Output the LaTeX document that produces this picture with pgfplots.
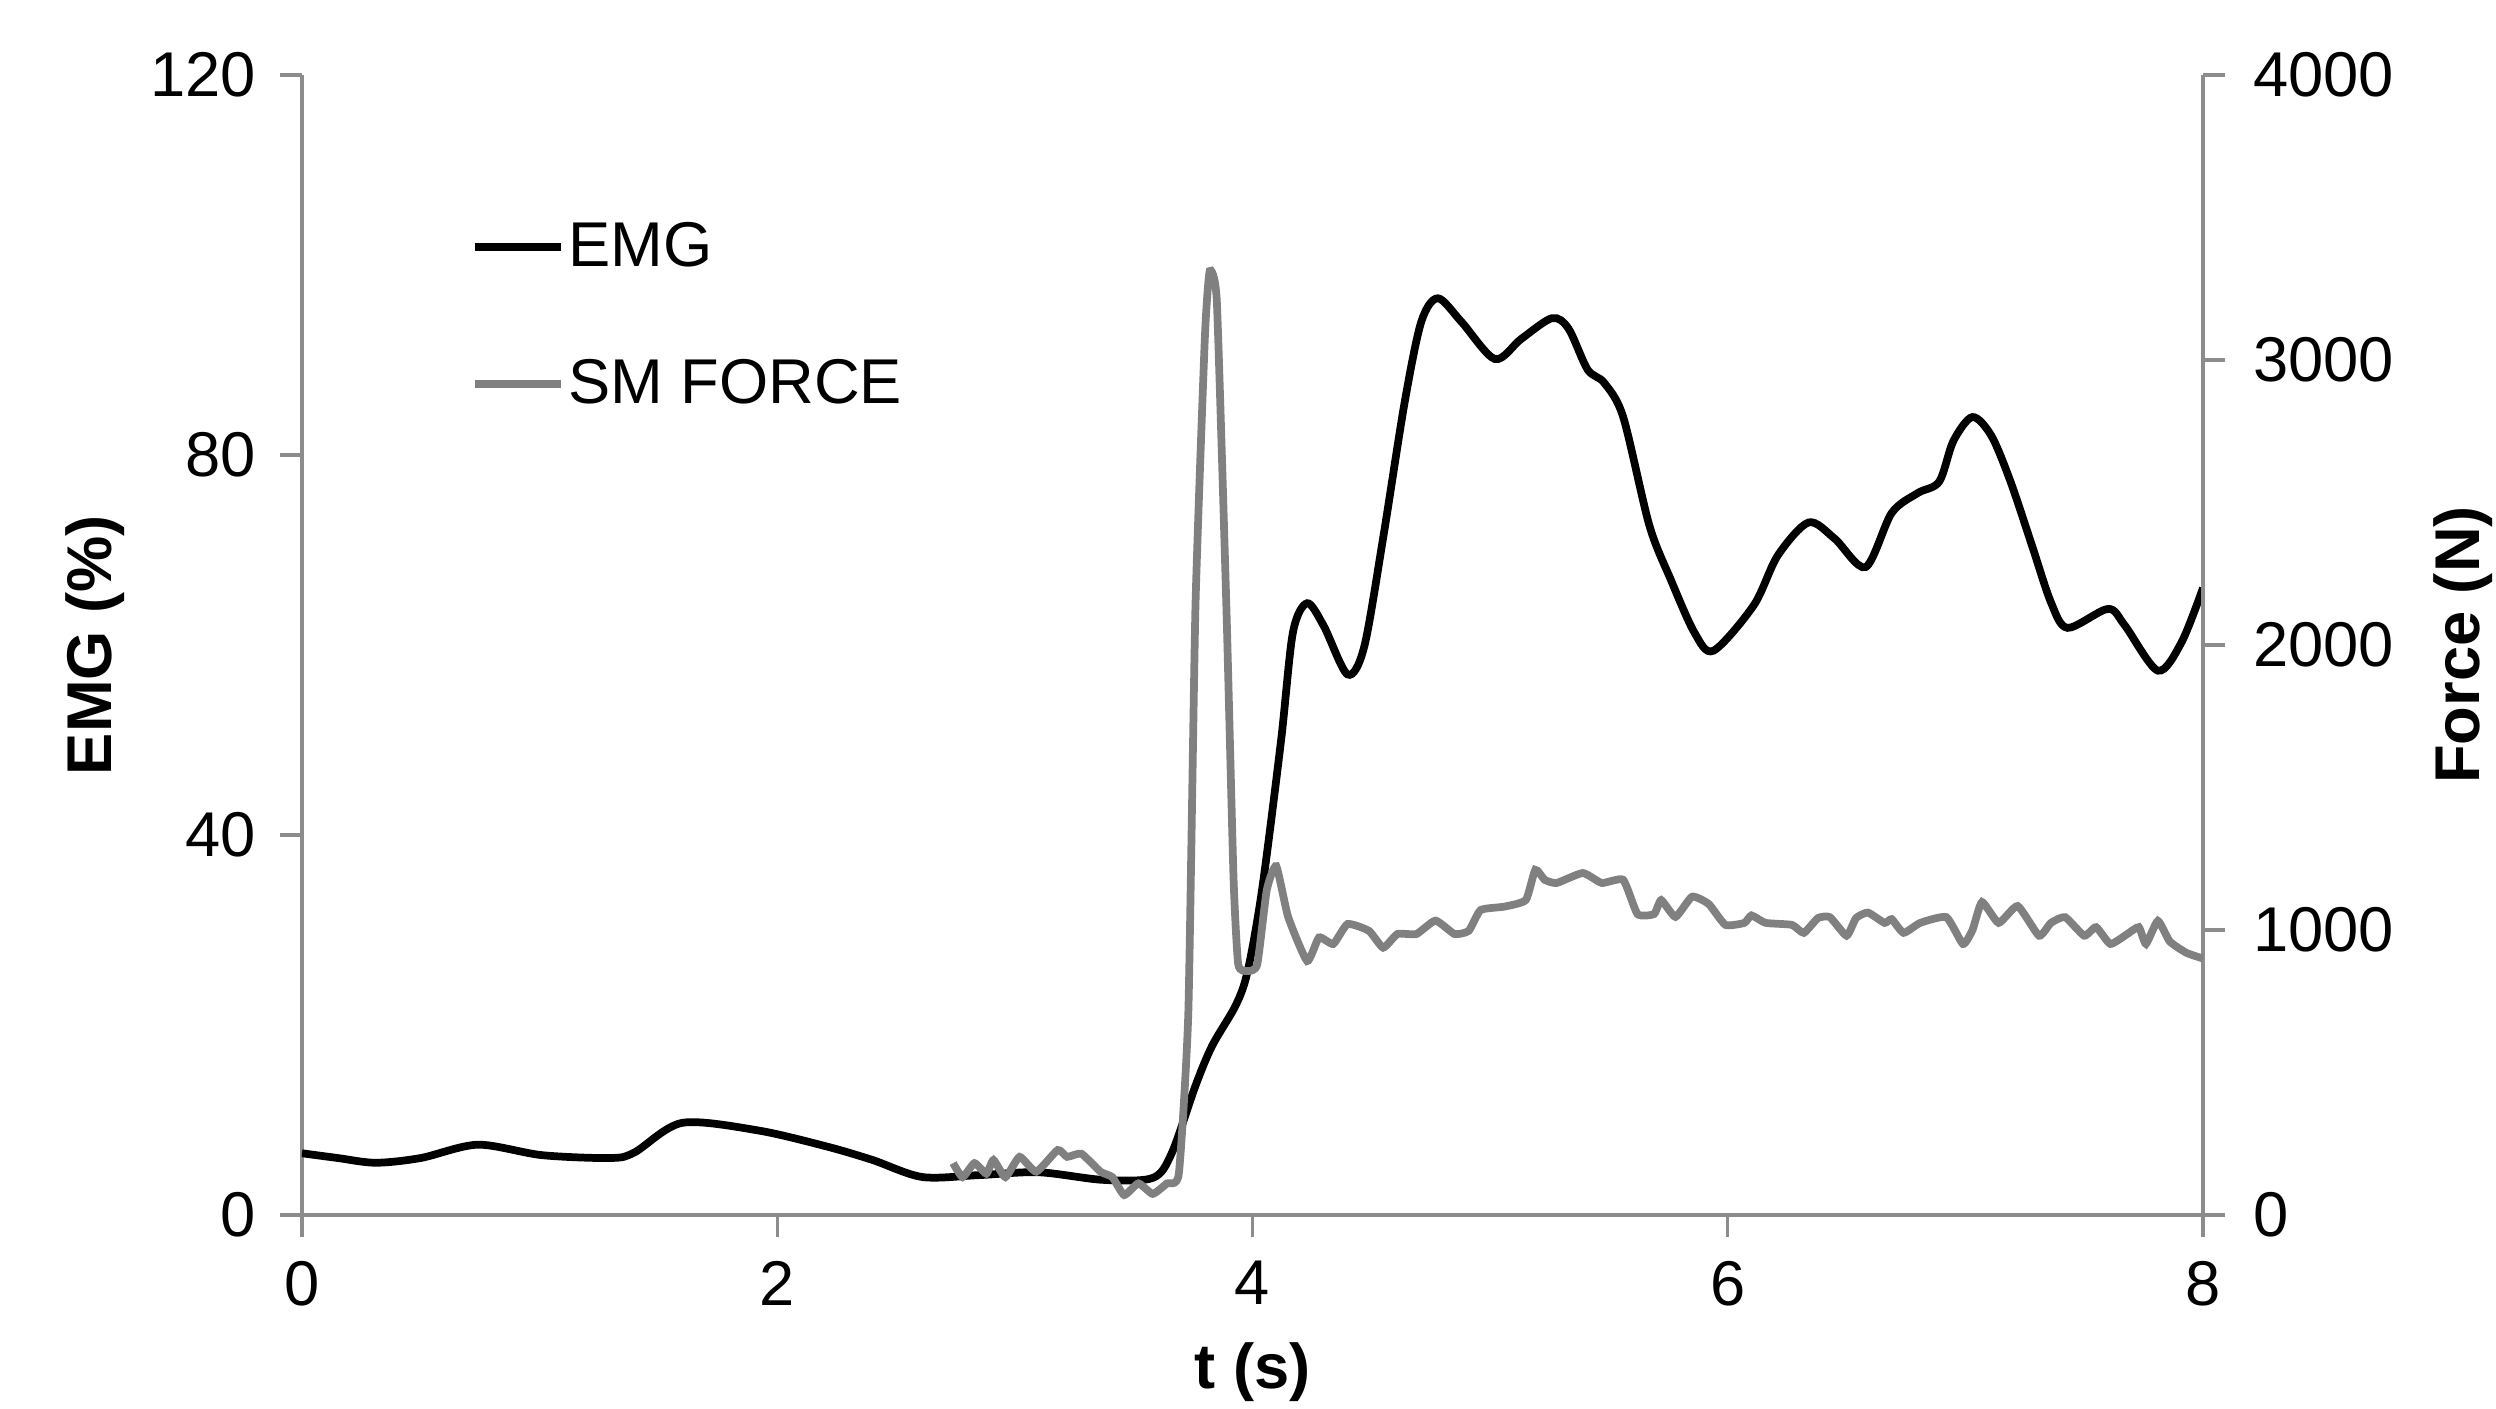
\documentclass[border=0pt]{standalone}
\usepackage{pgfplots}
\pgfplotsset{compat=1.18}
\usepackage{fontspec}
\setmainfont{Liberation Sans}
\definecolor{axgray}{RGB}{140,140,140}
\definecolor{forcegray}{RGB}{128,128,128}
\newcommand\tfont{\fontsize{18}{21}\selectfont}
\pgfplotstableread{
t emg
0.00 6.5
0.15 6.0
0.31 5.5
0.50 6.0
0.74 7.4
1.01 6.3
1.30 6.0
1.40 6.6
1.60 9.7
1.92 8.9
2.21 7.2
2.40 5.8
2.61 4.0
2.85 4.2
3.10 4.5
3.37 3.7
3.58 3.9
3.66 6.5
3.76 13.6
3.83 17.8
3.93 22.1
3.98 25.7
4.04 34.2
4.12 49.9
4.17 61.3
4.23 64.4
4.30 62.0
4.40 56.9
4.47 59.8
4.55 71.3
4.64 85.5
4.71 94.0
4.78 96.5
4.88 94.0
5.02 90.1
5.13 92.2
5.26 94.4
5.33 93.3
5.41 89.0
5.48 87.6
5.56 84.0
5.67 72.6
5.76 66.9
5.86 61.3
5.94 59.4
6.11 64.2
6.21 69.4
6.34 72.9
6.45 71.2
6.58 68.2
6.69 73.9
6.80 76.0
6.89 77.2
6.95 81.5
7.03 84.0
7.11 82.0
7.19 77.2
7.28 70.5
7.36 64.5
7.43 61.8
7.60 63.8
7.67 62.1
7.81 57.3
7.91 60.3
8.00 66.0
}\emgdata
\pgfplotstableread{
t force
2.74 182
2.78 133
2.83 182
2.88 145
2.91 193
2.96 133
3.02 204
3.09 152
3.18 228
3.22 204
3.28 215
3.36 152
3.41 133
3.46 70
3.52 111
3.58 74
3.64 111
3.69 145
3.73 712
3.76 2137
3.80 3088
3.82 3312
3.85 3205
3.89 2137
3.92 1187
3.94 879
3.98 856
4.02 879
4.06 1140
4.10 1224
4.15 1046
4.23 891
4.28 974
4.34 951
4.40 1021
4.49 997
4.55 938
4.61 986
4.69 986
4.77 1033
4.85 986
4.91 997
4.96 1070
5.06 1082
5.15 1105
5.19 1211
5.23 1176
5.28 1165
5.39 1200
5.47 1165
5.56 1176
5.62 1056
5.69 1056
5.72 1105
5.78 1046
5.85 1117
5.92 1091
5.99 1018
6.07 1025
6.10 1051
6.16 1025
6.27 1018
6.32 990
6.38 1042
6.43 1045
6.50 980
6.54 1042
6.59 1061
6.66 1025
6.69 1038
6.74 990
6.81 1025
6.92 1045
6.99 951
7.03 1000
7.07 1098
7.14 1025
7.22 1084
7.31 980
7.36 1025
7.42 1045
7.50 980
7.55 1010
7.61 951
7.68 985
7.73 1010
7.76 951
7.81 1032
7.86 960
7.93 920
8.00 900
}\forcedata
\pgfplotsset{
  common/.style={
    at={(0,0)}, anchor=south west,
    scale only axis, width=19.01cm, height=11.40cm,
    xmin=0, xmax=8,
    /pgf/number format/assume math mode=true,
    /pgf/number format/1000 sep={},
    tick label style={font=\tfont},
    label style={font=\tfont\bfseries},
    axis line style={axgray, line width=0.9pt},
    tick style={axgray, line width=0.9pt},
    major tick length=0.22cm,
    tick align=outside,
  }
}
\begin{document}
\begin{tikzpicture}
\path[use as bounding box] (-3.02,-1.93) rectangle (21.94,12.15);
\begin{axis}[common,
  axis x line*=bottom, axis y line*=left,
  ymin=0, ymax=120, ytick={0,40,80,120},
  xtick={0,2,4,6,8},
  xticklabel style={yshift=-0.12cm},
  yticklabel style={xshift=-0.12cm},
  xlabel={t (s)}, ylabel={EMG (\%)},
  xlabel style={at={(axis description cs:0.5,-0.138)}, anchor=center},
  ylabel style={at={(axis description cs:-0.109,0.5)}, anchor=center},
  legend style={draw=none, fill=none, font=\tfont,
    at={(axis description cs:0.0885,0.789)}, anchor=west,
    row sep=0.87cm, inner sep=0pt, nodes={inner xsep=1pt, inner ysep=0pt}},
  legend cell align=left,
  legend image code/.code={\draw[#1] (0cm,0cm) -- (0.86cm,0cm);},
]
\addplot[black, line width=2.2pt, smooth, tension=0.5] table[x=t,y=emg]{\emgdata};
\addlegendentry{EMG}
\addlegendimage{forcegray, line width=2.2pt}
\addlegendentry{SM FORCE}
\end{axis}
\begin{axis}[common,
  axis x line=none, axis y line*=right,
  ymin=0, ymax=4000, ytick={0,1000,2000,3000,4000},
  scaled y ticks=false,
  yticklabel style={xshift=0.16cm},
  ylabel={Force (N)},
  ylabel style={at={(axis description cs:1.137,0.5)}, anchor=center},
]
\addplot[forcegray, line width=2.2pt, smooth, tension=0.3] table[x=t,y=force]{\forcedata};
\end{axis}
\end{tikzpicture}
\end{document}
